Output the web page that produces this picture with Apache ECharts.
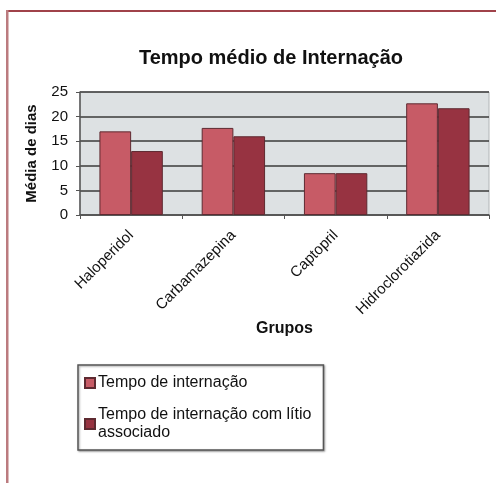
<!DOCTYPE html>
<html>
<head>
<meta charset="utf-8">
<script src="https://cdn.jsdelivr.net/npm/echarts@6/dist/echarts.min.js"></script>
<style>
  html, body { margin: 0; padding: 0; background: #fff; }
  #chart { width: 496px; height: 483px; }
</style>
</head>
<body>
<div id="chart"></div>
<script>
const categories = ['Haloperidol', 'Carbamazepina', 'Captopril', 'Hidroclorotiazida'];
const seriesNames = ['Tempo de internação', 'Tempo de internação com lítio associado'];
const tempoInternacao = [17, 17.7, 8.5, 22.7];
const tempoComLitio = [13, 16, 8.5, 21.7];
const yTicks = [0, 5, 10, 15, 20, 25];

const font = 'Liberation Sans, Arial, sans-serif';
const chart = echarts.init(document.getElementById('chart'));

chart.setOption({
  animation: false,
  title: {
    text: 'Tempo médio de Internação',
    left: 266,
    textAlign: 'center',
    top: 43,
    textStyle: { fontFamily: font, fontSize: 20, fontWeight: 'bold', color: '#111' }
  },
  grid: {
    left: 80, right: 7, top: 92, bottom: 268,
    show: true,
    backgroundColor: '#dde1e3',
    borderColor: '#b0b4b6',
    borderWidth: 1
  },
  legend: {
    orient: 'vertical',
    left: 78,
    top: 365,
    padding: [9, 12, 8, 6],
    itemGap: 14,
    itemWidth: 10,
    itemHeight: 10,
    backgroundColor: '#fff',
    borderColor: '#555',
    borderWidth: 1.5,
    shadowColor: 'rgba(0,0,0,0.35)',
    shadowBlur: 2,
    shadowOffsetX: 1,
    shadowOffsetY: 1,
    icon: 'rect',
    formatter: name => name.replace(' associado', '\nassociado'),
    textStyle: { fontFamily: font, fontSize: 16, color: '#111', lineHeight: 18, padding: [0, 0, 0, -2] }
  },
  xAxis: {
    type: 'category',
    data: categories,
    name: 'Grupos',
    nameLocation: 'middle',
    nameGap: 108,
    nameTextStyle: { fontFamily: font, fontSize: 16, fontWeight: 'bold', color: '#111', verticalAlign: 'middle' },
    axisLine: { lineStyle: { color: '#555', width: 1.5 } },
    axisTick: { show: true, length: 4, lineStyle: { color: '#555' } },
    axisLabel: {
      rotate: 45,
      margin: 18,
      fontFamily: font,
      fontSize: 15,
      color: '#111'
    }
  },
  yAxis: {
    type: 'value',
    min: 0,
    max: 25,
    interval: 5,
    name: 'Média de dias',
    nameLocation: 'middle',
    nameGap: 41,
    nameTextStyle: { fontFamily: font, fontSize: 15, fontWeight: 'bold', color: '#111' },
    axisLine: { show: true, lineStyle: { color: '#555', width: 1.5 } },
    axisTick: { show: true, length: 4, lineStyle: { color: '#555' } },
    axisLabel: {
      fontFamily: font,
      fontSize: 15,
      color: '#111',
      margin: 12,
      formatter: v => (yTicks.includes(v) ? String(v) : '')
    },
    splitLine: { lineStyle: { color: '#3a3a3a', width: 1.5 } }
  },
  graphic: [
    { type: 'rect', shape: { x: 6, y: 10, width: 490, height: 2 }, style: { fill: '#a0424a' } },
    { type: 'rect', shape: { x: 6, y: 10, width: 2.5, height: 473 }, style: { fill: '#bb7b7f' } }
  ],
  series: [
    {
      name: seriesNames[0],
      type: 'bar',
      data: tempoInternacao,
      barGap: '0%',
      barCategoryGap: '38%',
      itemStyle: { color: '#c75b66', borderColor: '#5e2a31', borderWidth: 1 }
    },
    {
      name: seriesNames[1],
      type: 'bar',
      data: tempoComLitio,
      barGap: '0%',
      barCategoryGap: '38%',
      itemStyle: { color: '#973341', borderColor: '#5e2a31', borderWidth: 1 }
    }
  ]
});
</script>
</body>
</html>
